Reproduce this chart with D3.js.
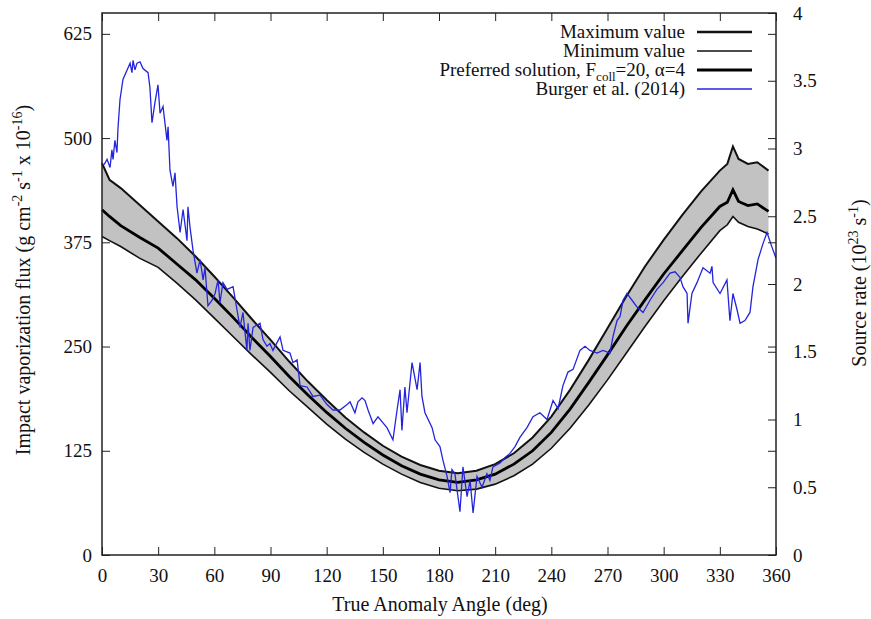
<!DOCTYPE html>
<html>
<head>
<meta charset="utf-8">
<script src="https://cdn.jsdelivr.net/npm/d3@7"></script>
</head>
<body style="margin:0">
<div id="graph"></div>
<script>
// true anomaly angle (deg) for the model curves
let angle = [0, 4, 10, 20, 30, 40, 50, 60, 70, 80, 90, 100, 110, 120, 130, 140, 150, 160, 170, 180,
    190, 200, 210, 220, 230, 240, 250, 260, 270, 280, 290, 300, 310, 320, 330, 334, 337, 340, 345, 350, 356];
// impact vaporization flux (g cm^-2 s^-1 x 10^-16)
let maxFlux = [470, 450, 440, 420, 400, 380, 358, 334, 309, 283, 258, 232, 208, 186, 165, 147, 131, 118, 108, 101,
    98, 101, 109, 122, 141, 166, 198, 234, 272, 310, 346, 378, 408, 436, 461, 469, 490, 475, 469, 471, 461];
let minFlux = [382, 377, 370, 356, 345, 326, 306, 284, 262, 240, 219, 197, 177, 157, 139, 123, 109, 97, 87, 80,
    77, 79, 85, 95, 109, 128, 152, 180, 210, 242, 274, 305, 334, 362, 389, 396, 406, 399, 394, 391, 385];
let prefFlux = [414, 406, 395, 381, 368, 349, 330, 308, 285, 261, 238, 214, 192, 171, 152, 135, 120, 107, 97, 90,
    87, 90, 97, 109, 125, 147, 175, 207, 240, 274, 306, 337, 365, 393, 418, 423, 438, 424, 419, 421, 412];

// Burger et al. (2014): source rate (10^23 s^-1)
let burgerAngle = [1.1, 2.7, 4.3, 5.3, 5.9, 6.9, 8.0, 8.5, 9.6, 11.2,
    15.0, 16.0, 16.6, 17.6, 18.7, 20.3, 21.9, 24.6, 25.6, 26.7,
    28.3, 29.9, 31.0, 32.6, 34.7, 35.3, 36.3, 37.9, 39.0, 40.1,
    41.7, 43.3, 45.4, 45.9, 47.0, 48.6, 50.7, 52.4, 54.0, 55.0,
    56.6, 58.8, 60.4, 62.0, 63.0, 64.6, 66.8, 70.0, 72.1, 73.7,
    75.3, 77.4, 78.0, 79.0, 80.7, 84.4, 86.0, 88.1, 89.7, 91.3,
    95.1, 96.7, 100.4, 102.0, 104.2, 105.8, 109.5, 112.7, 116.4, 120.2,
    123.4, 127.1, 130.9, 132.5, 135.1, 136.7, 138.9, 140.5, 142.1, 144.8,
    147.4, 152.2, 155.4, 157.6, 159.2, 160.2, 161.8, 162.9, 165.6, 168.3,
    169.9, 170.9, 172.5, 176.3, 177.9, 180.5, 182.1, 184.3, 185.9, 186.9,
    188.5, 191.2, 192.8, 195.0, 196.6, 198.2, 200.3, 203.0, 205.6, 207.2,
    208.8, 212.6, 215.3, 217.9, 220.6, 223.3, 227.0, 230.2, 233.9, 237.7,
    240.9, 243.6, 246.2, 248.9, 251.6, 255.3, 258.0, 260.6, 264.4, 267.6,
    271.3, 272.9, 275.1, 276.7, 278.3, 280.4, 283.1, 285.8, 289.0, 292.7,
    296.4, 299.7, 303.4, 306.1, 308.7, 310.3, 312.5, 313.0, 315.1, 317.8,
    321.0, 324.8, 325.8, 326.4, 330.1, 333.8, 335.4, 337.0, 339.2, 340.8,
    343.4, 346.1, 347.7, 350.4, 353.1, 355.2, 357.9, 360];
let burgerRate = [2.88, 2.92, 2.86, 2.99, 2.92, 3.06, 2.97, 3.14, 3.36, 3.51,
    3.63, 3.56, 3.65, 3.58, 3.63, 3.64, 3.59, 3.56, 3.45, 3.19,
    3.34, 3.47, 3.26, 3.31, 3.06, 3.16, 2.84, 2.72, 2.82, 2.57,
    2.38, 2.55, 2.32, 2.57, 2.42, 2.25, 2.08, 2.18, 2.03, 2.12,
    1.84, 1.88, 1.93, 2.03, 1.86, 2.01, 1.96, 1.98, 1.81, 1.68,
    1.79, 1.51, 1.71, 1.51, 1.68, 1.71, 1.59, 1.54, 1.56, 1.51,
    1.61, 1.51, 1.49, 1.42, 1.44, 1.25, 1.24, 1.17, 1.18, 1.11,
    1.07, 1.07, 1.11, 1.13, 1.05, 1.13, 1.16, 1.14, 1.07, 0.97,
    1.02, 0.94, 0.85, 1.07, 1.22, 0.92, 1.24, 1.05, 1.42, 1.22,
    1.42, 1.17, 1.05, 0.94, 0.85, 0.80, 0.70, 0.58, 0.46, 0.63,
    0.60, 0.32, 0.65, 0.43, 0.55, 0.31, 0.58, 0.50, 0.60, 0.55,
    0.65, 0.68, 0.72, 0.75, 0.80, 0.87, 0.94, 1.02, 1.05, 1.00,
    1.14, 1.08, 1.25, 1.35, 1.37, 1.51, 1.54, 1.51, 1.49, 1.51,
    1.49, 1.61, 1.73, 1.76, 1.88, 1.93, 1.88, 1.83, 1.79, 1.88,
    1.96, 2.01, 2.08, 2.09, 2.05, 1.98, 1.93, 1.71, 1.93, 2.01,
    2.12, 2.08, 2.13, 2.01, 1.93, 2.03, 1.73, 1.93, 1.81, 1.71,
    1.73, 1.79, 1.98, 2.18, 2.30, 2.38, 2.27, 2.19];

// tick labels
let xTicks = [0, 30, 60, 90, 120, 150, 180, 210, 240, 270, 300, 330, 360];
let yTicks = [0, 125, 250, 375, 500, 625];
let y2Ticks = [0, 0.5, 1, 1.5, 2, 2.5, 3, 3.5, 4];

// "Times New Roman" resolves to the installed Liberation Serif
let serifFont = "Times New Roman";

let width = 871, height = 619;
let margin = { left: 102, right: 95, top: 13, bottom: 64 };
let plotW = width - margin.left - margin.right;
let plotH = height - margin.top - margin.bottom;

let svg = d3.select("#graph")
    .append("svg")
    .attr("width", width)
    .attr("height", height)
    .style("background", "#fff");

let g = svg.append("g")
    .attr("transform", `translate(${margin.left}, ${margin.top})`);

// scales: left flux axis and right source-rate axis share the same range
let x = d3.scaleLinear().domain([0, 360]).range([0, plotW]);
let y = d3.scaleLinear().domain([0, 650]).range([plotH, 0]);
let y2 = d3.scaleLinear().domain([0, 4]).range([plotH, 0]);

g.append("clipPath").attr("id", "clip")
    .append("rect").attr("width", plotW).attr("height", plotH);

let model = angle.map((a, i) => ({ a: a, max: maxFlux[i], min: minFlux[i], pref: prefFlux[i] }));
let burger = burgerAngle.map((a, i) => ({ a: a, r: burgerRate[i] }));

// grey band between min and max
let band = d3.area()
    .x(d => x(d.a))
    .y0(d => y(d.min))
    .y1(d => y(d.max));

g.append("path")
    .datum(model)
    .attr("d", band)
    .attr("fill", "#c2c2c2");

let lineOf = key => d3.line().x(d => x(d.a)).y(d => y(d[key]));

g.append("path").datum(model).attr("d", lineOf("max"))
    .attr("fill", "none").attr("stroke", "#111").attr("stroke-width", 2);
g.append("path").datum(model).attr("d", lineOf("min"))
    .attr("fill", "none").attr("stroke", "#111").attr("stroke-width", 1.6);
g.append("path").datum(model).attr("d", lineOf("pref"))
    .attr("fill", "none").attr("stroke", "#000").attr("stroke-width", 2.8);

// Burger data on the right axis
g.append("path")
    .datum(burger)
    .attr("clip-path", "url(#clip)")
    .attr("d", d3.line().x(d => x(d.a)).y(d => y2(d.r)))
    .attr("fill", "none")
    .attr("stroke", "#2424dc")
    .attr("stroke-width", 1.3);

// axes, ticks pointing inward
let styleAxis = function (sel) {
    sel.attr("font-family", null).attr("font-size", null).style("color", "#222");
    sel.select(".domain").remove();
    sel.selectAll("text")
        .attr("fill", "#111")
        .attr("font-family", serifFont)
        .attr("font-size", 19);
};

g.append("g")
    .attr("transform", `translate(0, ${plotH})`)
    .call(d3.axisBottom(x).tickValues(xTicks).tickSize(-8).tickPadding(14))
    .call(styleAxis);
g.append("g")
    .call(d3.axisTop(x).tickValues(xTicks).tickSize(-8).tickFormat(""))
    .call(styleAxis);
g.append("g")
    .call(d3.axisLeft(y).tickValues(yTicks).tickSize(-8).tickPadding(10))
    .call(styleAxis);
g.append("g")
    .attr("transform", `translate(${plotW}, 0)`)
    .call(d3.axisRight(y).tickValues(yTicks).tickSize(-8).tickFormat(""))
    .call(styleAxis);
g.append("g")
    .attr("transform", `translate(${plotW}, 0)`)
    .call(d3.axisRight(y2).tickValues(y2Ticks).tickSize(-8).tickPadding(17).tickFormat(d => d))
    .call(styleAxis);

// frame
g.append("rect")
    .attr("width", plotW)
    .attr("height", plotH)
    .attr("fill", "none")
    .attr("stroke", "#222")
    .attr("stroke-width", 1.5);

// axis titles
svg.append("text")
    .attr("x", margin.left + plotW / 2 + 1)
    .attr("y", 611)
    .attr("text-anchor", "middle")
    .attr("fill", "#111")
    .attr("font-family", serifFont)
    .attr("font-size", 20)
    .text("True Anomaly Angle (deg)");

let leftTitle = svg.append("text")
    .attr("transform", "translate(30, 280) rotate(-90)")
    .attr("text-anchor", "middle")
    .attr("fill", "#111")
    .attr("font-family", serifFont)
    .attr("font-size", 20);
leftTitle.append("tspan").text("Impact vaporization flux (g cm");
leftTitle.append("tspan").attr("dy", -8).attr("font-size", 14).text("-2");
leftTitle.append("tspan").attr("dy", 8).text(" s");
leftTitle.append("tspan").attr("dy", -8).attr("font-size", 14).text("-1");
leftTitle.append("tspan").attr("dy", 8).text(" x 10");
leftTitle.append("tspan").attr("dy", -8).attr("font-size", 14).text("-16");
leftTitle.append("tspan").attr("dy", 8).text(")");

let rightTitle = svg.append("text")
    .attr("transform", "translate(866, 283) rotate(-90)")
    .attr("text-anchor", "middle")
    .attr("fill", "#111")
    .attr("font-family", serifFont)
    .attr("font-size", 20);
rightTitle.append("tspan").text("Source rate (10");
rightTitle.append("tspan").attr("dy", -8).attr("font-size", 14).text("23");
rightTitle.append("tspan").attr("dy", 8).text(" s");
rightTitle.append("tspan").attr("dy", -8).attr("font-size", 14).text("-1");
rightTitle.append("tspan").attr("dy", 8).text(")");

// legend
let legend = svg.append("g").attr("transform", "translate(685, 32)");
let rowH = 19;
let swatch = [
    { stroke: "#111", w: 2.5 },
    { stroke: "#111", w: 1.5 },
    { stroke: "#000", w: 3 },
    { stroke: "#2424dc", w: 1.3 }
];
swatch.forEach(function (s, i) {
    legend.append("line")
        .attr("x1", 12).attr("x2", 67)
        .attr("y1", i * rowH).attr("y2", i * rowH)
        .attr("stroke", s.stroke)
        .attr("stroke-width", s.w);
});
let lt = (i) => legend.append("text")
    .attr("x", 0)
    .attr("y", i * rowH + 6)
    .attr("text-anchor", "end")
    .attr("fill", "#111")
    .attr("font-family", serifFont)
    .attr("font-size", 19);
lt(0).text("Maximum value");
lt(1).text("Minimum value");
let pt = lt(2);
pt.append("tspan").text("Preferred solution, F");
pt.append("tspan").attr("dy", 5).attr("font-size", 13).text("coll");
pt.append("tspan").attr("dy", -5).text("=20, \u03b1=4");
lt(3).text("Burger et al. (2014)");
</script>
</body>
</html>
